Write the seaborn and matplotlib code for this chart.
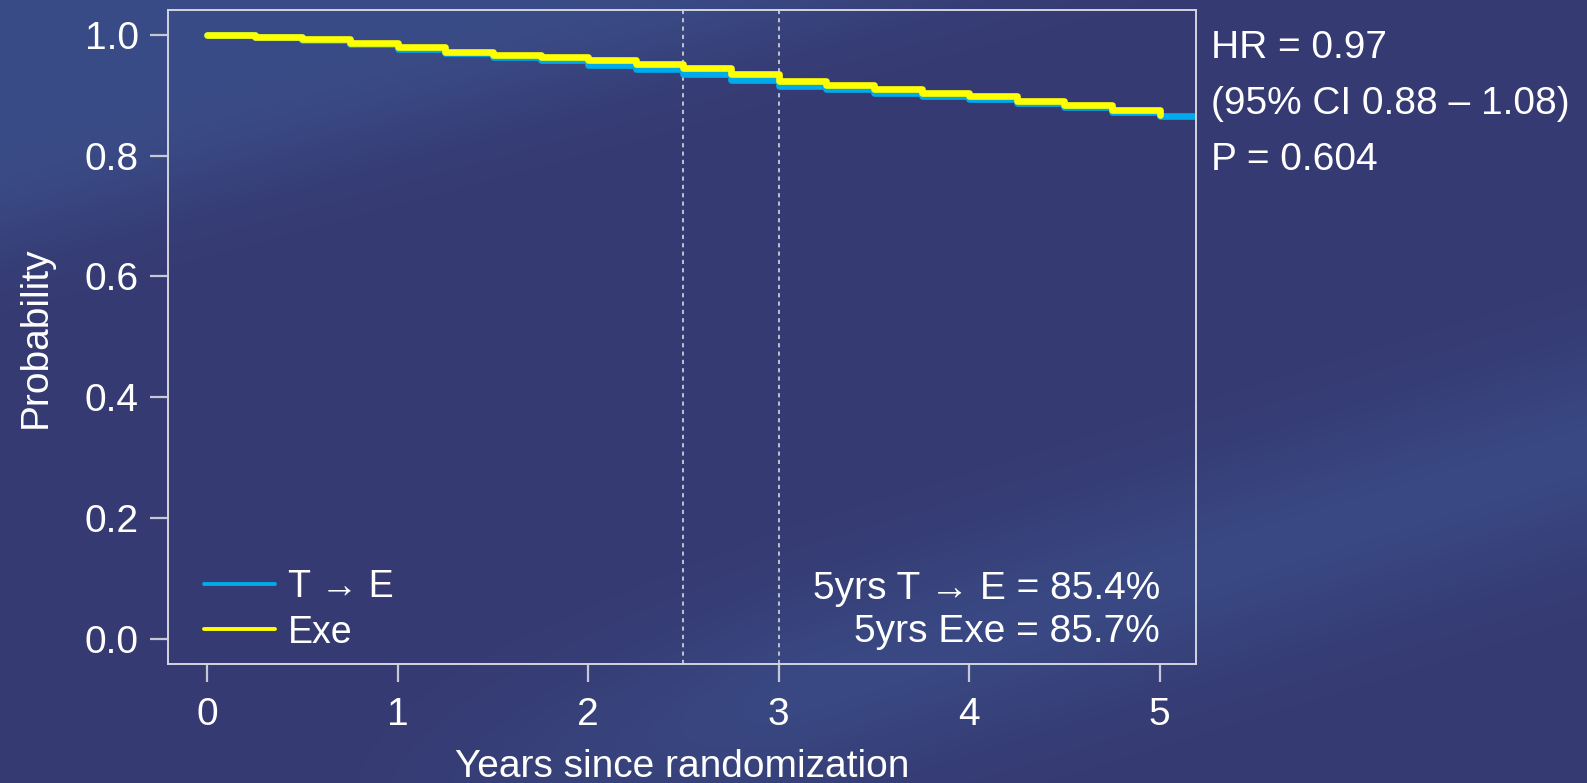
import numpy as np
import pandas as pd
import matplotlib
matplotlib.use("Agg")
import matplotlib.pyplot as plt
import seaborn as sns

# survival curves
years = [0.0, 0.25, 0.5, 0.75, 1.0, 1.25, 1.5, 1.75, 2.0, 2.25, 2.5,
         2.75, 3.0, 3.25, 3.5, 3.75, 4.0, 4.25, 4.5, 4.75, 5.0]
exe = [1.0, 0.997, 0.993, 0.987, 0.980, 0.972, 0.967, 0.963, 0.958, 0.952, 0.945,
       0.935, 0.924, 0.917, 0.910, 0.904, 0.898, 0.891, 0.884, 0.876, 0.867]
years_te = years + [5.25]
t_to_e = [1.0, 0.997, 0.992, 0.985, 0.977, 0.970, 0.963, 0.958, 0.950, 0.943, 0.935,
          0.925, 0.916, 0.910, 0.904, 0.899, 0.893, 0.887, 0.880, 0.872, 0.865, 0.862]

groups = ["T \u2192 E", "Exe"]
colors = ["#00aaeb", "#ffff00"]
xticks = [0, 1, 2, 3, 4, 5]
yticks = [0.0, 0.2, 0.4, 0.6, 0.8, 1.0]
ref_lines = [2.5, 3.0]
stats_text = ["HR = 0.97", "(95% CI 0.88 \u2013 1.08)", "P = 0.604"]
five_year = ["5yrs T \u2192 E = 85.4%", "5yrs Exe = 85.7%"]

df = pd.concat([
    pd.DataFrame({"years": years_te, "prob": t_to_e, "arm": groups[0]}),
    pd.DataFrame({"years": years, "prob": exe, "arm": groups[1]}),
])

sns.set_style("white")
plt.rcParams["font.family"] = ["Liberation Sans", "DejaVu Sans"]
fg = "white"

fig = plt.figure(figsize=(15.87, 7.83), dpi=100)

# background gradient
H, W = 783, 1587
xs, ys = np.meshgrid(np.linspace(0, 1, W), np.linspace(0, 1, H))
top = 1 / (1 + np.exp(((ys + 0.55 * xs) - 0.30) / 0.035))
d = ys - (1.0 - 0.62 * (xs - 0.315))
band = np.exp(-(d / 0.13) ** 2) * np.clip((xs - 0.2) / 0.3, 0, 1)
glow = np.clip(np.maximum(top, band * 0.8), 0, 1)
dark = np.array([0x36, 0x3a, 0x72]) / 255
light = np.array([0x3a, 0x4c, 0x87]) / 255
img = dark[None, None, :] * (1 - glow[..., None]) + light[None, None, :] * glow[..., None]
bg = fig.add_axes([0, 0, 1, 1], zorder=-1)
bg.imshow(img, aspect="auto", extent=[0, 1, 0, 1])
bg.axis("off")

ax = fig.add_axes([0.1059, 0.152, 0.6477, 0.8352])
ax.patch.set_alpha(0)

sns.lineplot(data=df, x="years", y="prob", hue="arm", palette=colors,
             hue_order=groups, drawstyle="steps-post", linewidth=4.8,
             errorbar=None, ax=ax)

for xv in ref_lines:
    ax.axvline(xv, color="#d8d8e0", linewidth=1.2, linestyle=(0, (2.5, 2.5)), zorder=1)

ax.set_xlim(-0.205, 5.19)
ax.set_ylim(-0.042, 1.041)
ax.set_xticks(xticks)
ax.set_yticks(yticks)
ax.set_yticklabels([f"{v:.1f}" for v in yticks])
ax.tick_params(axis="both", colors="#c8c8d4", labelcolor=fg, labelsize=28,
               length=13, width=1.6, direction="out", bottom=True, left=True)
ax.tick_params(axis="x", pad=11)
ax.tick_params(axis="y", pad=8)
for s in ax.spines.values():
    s.set_color("#d4d4e0")
    s.set_linewidth(1.4)

ax.set_xlabel("Years since randomization", color=fg, fontsize=28, labelpad=11)
ax.set_ylabel("Probability", color=fg, fontsize=28, labelpad=22)

leg = ax.legend(loc="lower left", bbox_to_anchor=(0.0, -0.034), frameon=False,
                fontsize=27, handlelength=1.9, handletextpad=0.35,
                labelspacing=0.25, borderaxespad=0.35, borderpad=0.6)
for line in leg.get_lines():
    line.set_linewidth(2.8)
for t in leg.get_texts():
    t.set_color(fg)

ax.text(5.0, 0.083, five_year[0], ha="right", va="center", color=fg, fontsize=28)
ax.text(5.0, 0.011, five_year[1], ha="right", va="center", color=fg, fontsize=28)

for i, s in enumerate(stats_text):
    fig.text(1211 / 1587, 1 - (47.5 + 56 * i) / 783, s, ha="left", va="center",
             color=fg, fontsize=28)

fig.savefig("out.png", dpi=100)
